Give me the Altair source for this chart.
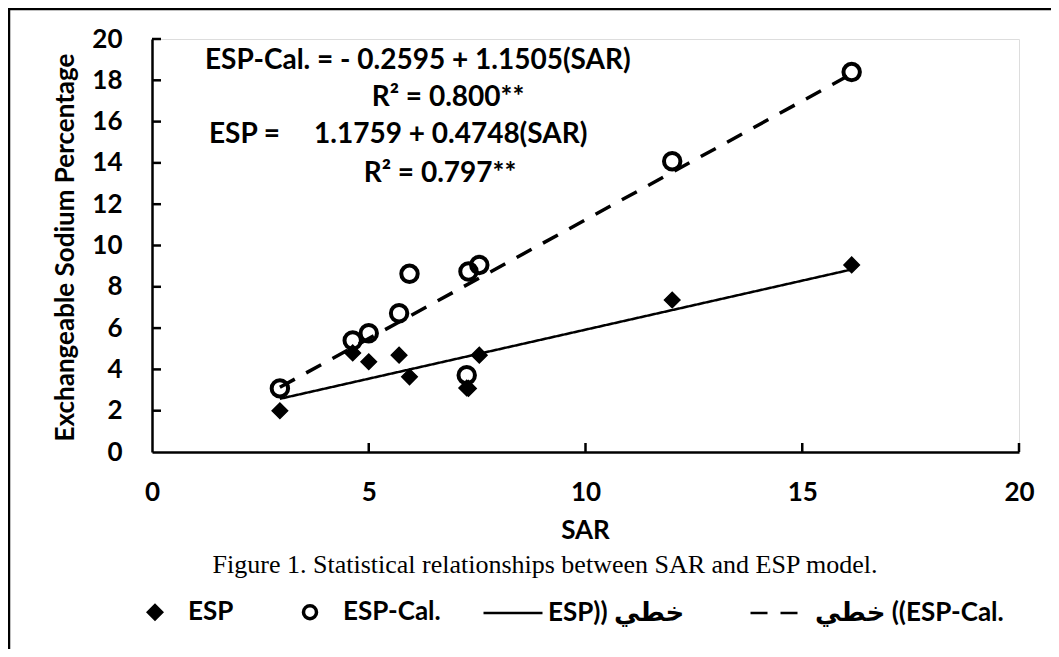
import altair as alt
import pandas as pd

# ---- data ----
SAR = [2.95, 4.63, 5.00, 5.70, 5.94, 7.26, 7.30, 7.55, 12.00, 16.14]
ESP = [2.00, 4.80, 4.37, 4.69, 3.64, 3.10, 3.08, 4.69, 7.36, 9.06]
ESP_CAL = [3.08, 5.40, 5.75, 6.72, 8.63, 3.72, 8.74, 9.06, 14.08, 18.40]
SERIES = ["ESP", "ESP-Cal."]
TREND_LABELS = ["ESP)) خطي", "خطي ((ESP-Cal."]
INTERCEPTS = [1.1759, -0.2595]
SLOPES = [0.4748, 1.1505]
EQ_TEXT = [
    "ESP-Cal. = - 0.2595 + 1.1505(SAR)",
    "R\u00b2 = 0.800**",
    "ESP =\u00a0\u00a0\u00a0\u00a0 1.1759 + 0.4748(SAR)",
    "R\u00b2 = 0.797**",
]
X_TICKS = [0, 5, 10, 15, 20]
Y_TICKS = [0, 2, 4, 6, 8, 10, 12, 14, 16, 18, 20]
X_INNER_TICKS = [5, 10, 15, 20]
Y_INNER_TICKS = [2, 4, 6, 8, 10, 12, 14, 16, 18, 20]
CAPTION = "Figure 1. Statistical relationships between SAR and ESP model."
X_TITLE = "SAR"
Y_TITLE = "Exchangeable Sodium Percentage"

W, H = 867, 413
FONT = "Lato, DejaVu Sans, sans-serif"
FS = 26
FS_EQ = 28

n = len(SAR)
pts = pd.DataFrame({
    "SAR": SAR + SAR,
    "value": ESP + ESP_CAL,
    "series": [SERIES[0]] * n + [SERIES[1]] * n,
})

trend_rows = []
for lab, a, b in zip(TREND_LABELS, INTERCEPTS, SLOPES):
    for xv in (min(SAR), max(SAR)):
        trend_rows.append({"SAR": xv, "value": a + b * xv, "trend": lab})
trend = pd.DataFrame(trend_rows)

xscale = alt.Scale(domain=[0, 20], nice=False, zero=False)
yscale = alt.Scale(domain=[0, 20], nice=False, zero=False)

x_axis = alt.Axis(values=X_TICKS, title=X_TITLE, ticks=False, grid=False,
                  domainColor="black", domainWidth=2.5, labelFlush=False,
                  labelPadding=27, labelFont=FONT, labelFontSize=FS, labelFontWeight="bold",
                  labelColor="black", titleFont=FONT, titleFontSize=FS, titleFontWeight="bold",
                  titleColor="black", titleX=433, titleY=78, titleBaseline="middle",
                  titleAlign="center")
y_axis = alt.Axis(values=Y_TICKS, title=Y_TITLE, ticks=False, grid=False,
                  domainColor="black", domainWidth=2.5, labelFlush=False,
                  labelPadding=30, labelFont=FONT, labelFontSize=FS, labelFontWeight="bold",
                  labelColor="black", titleFont=FONT, titleFontSize=FS, titleFontWeight="bold",
                  titleColor="black", titleX=-87, titleY=208, titleAngle=270,
                  titleBaseline="middle", titleAlign="center")

X = alt.X("SAR:Q", scale=xscale, axis=x_axis)
Y = alt.Y("value:Q", scale=yscale, axis=y_axis)

# trend lines
dash_scale = alt.Scale(domain=TREND_LABELS, range=[[1, 0], [17, 13]])
line_legend = alt.Legend(orient="none", legendX=330, legendY=543, direction="horizontal",
                         title=None, padding=0, symbolType="stroke", symbolSize=3481,
                         symbolStrokeWidth=2.5, symbolStrokeColor="black",
                         labelFont=FONT, labelFontSize=FS, labelFontWeight="bold",
                         labelColor="black", labelOffset=4, columnPadding=60,
                         labelLimit=400)
solid = alt.Chart(trend).transform_filter(
    alt.datum.trend == TREND_LABELS[0]
).mark_line(color="black", strokeWidth=2.5).encode(
    x=X, y=Y,
    strokeDash=alt.StrokeDash("trend:N", scale=dash_scale, legend=line_legend),
)
dashed = alt.Chart(trend).transform_filter(
    alt.datum.trend == TREND_LABELS[1]
).mark_line(color="black", strokeWidth=3.5).encode(
    x=X, y=Y,
    strokeDash=alt.StrokeDash("trend:N", scale=dash_scale, legend=line_legend),
)

# points
pt_legend = alt.Legend(orient="none", legendX=-10, legendY=560, direction="horizontal",
                       title=None, padding=0, symbolSize=170, symbolStrokeWidth=3.5,
                       labelFont=FONT, labelFontSize=FS, labelFontWeight="bold",
                       labelColor="black", labelOffset=20, columnPadding=62)
shape_enc = alt.Shape("series:N", scale=alt.Scale(domain=SERIES, range=["diamond", "circle"]),
                      legend=pt_legend)
fill_enc = alt.Fill("series:N", scale=alt.Scale(domain=SERIES, range=["black", "transparent"]),
                    legend=pt_legend)
stroke_enc = alt.Stroke("series:N", scale=alt.Scale(domain=SERIES, range=["black", "black"]),
                        legend=pt_legend)

diamonds = alt.Chart(pts).transform_filter(alt.datum.series == SERIES[0]).mark_point(
    filled=True, strokeWidth=1.5, size=240, opacity=1
).encode(x=X, y=Y, shape=shape_enc, fill=fill_enc, stroke=stroke_enc)
circles = alt.Chart(pts).transform_filter(alt.datum.series == SERIES[1]).mark_point(
    filled=True, strokeWidth=4, size=270, opacity=1
).encode(x=X, y=Y, shape=shape_enc, fill=fill_enc, stroke=stroke_enc)

# inner tick marks
xt = alt.Chart(pd.DataFrame({"SAR": X_INNER_TICKS})).mark_tick(
    orient="vertical", thickness=2.5, size=9, color="black", opacity=1
).encode(x=X, y=alt.value(H - 4.5))
yt = alt.Chart(pd.DataFrame({"value": Y_INNER_TICKS})).mark_tick(
    orient="horizontal", thickness=2.5, size=9, color="black", opacity=1
).encode(y=Y, x=alt.value(4.5))

# equation texts
def eq(i, x, y, align):
    return alt.Chart(pd.DataFrame({"t": [EQ_TEXT[i]]})).mark_text(
        font=FONT, fontSize=FS_EQ, fontWeight="bold", color="black", align=align,
        baseline="middle"
    ).encode(text="t:N", x=alt.value(x), y=alt.value(y))

eqs = [eq(0, 53, 22, "left"), eq(1, 296, 59, "center"), eq(2, 57, 96, "left"),
       eq(3, 288, 135, "center")]

caption = alt.Chart(pd.DataFrame({"t": [CAPTION]})).mark_text(
    font="Liberation Serif", fontSize=26, color="black", align="center", baseline="middle"
).encode(text="t:N", x=alt.value(393), y=alt.value(526))

# outer frame (left and top edges)
frame_left = alt.Chart(pd.DataFrame({"k": [0]})).mark_rule(color="black", strokeWidth=2.5).encode(
    x=alt.value(-143), y=alt.value(-30), y2=alt.value(H + 197))
frame_top = alt.Chart(pd.DataFrame({"k": [0]})).mark_rule(color="black", strokeWidth=2.5).encode(
    x=alt.value(-144), x2=alt.value(W + 32), y=alt.value(-30))

chart = alt.layer(
    solid, dashed, diamonds, circles, xt, yt, *eqs, caption, frame_left, frame_top
).properties(
    width=W, height=H,
    autosize=alt.AutoSizeParams(type="none"),
    padding={"left": 144, "top": 31, "right": 32, "bottom": 197},
).configure_view(stroke=None).configure(background="white")

chart.save("out.html", embed_options={"renderer": "svg", "actions": False})
